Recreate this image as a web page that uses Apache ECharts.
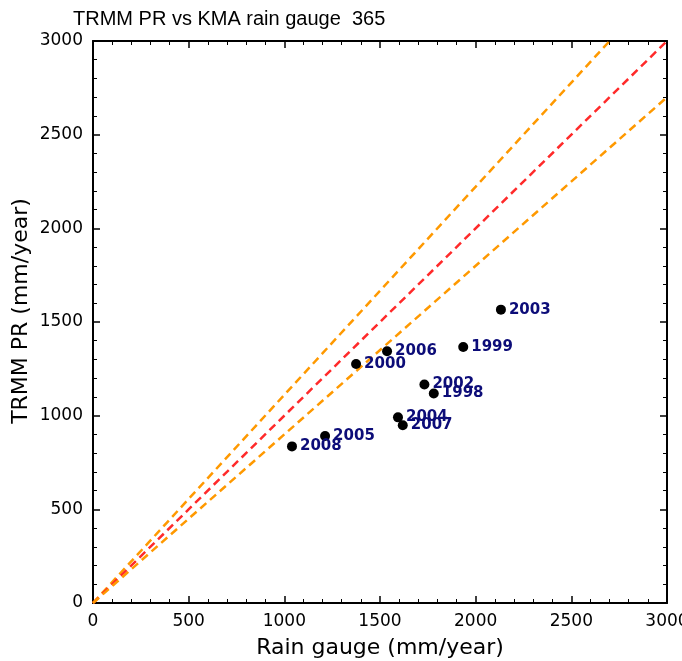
<!DOCTYPE html>
<html>
<head>
<meta charset="utf-8">
<script src="https://cdn.jsdelivr.net/npm/echarts@6/dist/echarts.min.js"></script>
<style>
  html, body { margin: 0; padding: 0; background: #fff; }
  #chart { width: 682px; height: 661px; }
</style>
</head>
<body>
<div id="chart"></div>
<script>
// station years and yearly totals (mm/year)
var years = ["2003", "1999", "2006", "2000", "2002", "1998", "2004", "2007", "2005", "2008"];
var gauge = [2132, 1935, 1537, 1375, 1732, 1781, 1594, 1619, 1213, 1040];
var trmm = [1566, 1367, 1344, 1276, 1166, 1118, 991, 949, 891, 836];

// reference lines: 1:1 and +/-10%
var oneToOne = [[0, 0], [3000, 3000]];
var upperRef = [[0, 0], [2700, 3000]];
var lowerRef = [[0, 0], [3000, 2700]];

var axisMin = 0;
var axisMax = 3000;
var axisStep = 500;

var pts = [];
for (var i = 0; i < years.length; i++) {
  pts.push({ value: [gauge[i], trmm[i]], name: years[i] });
}

function makeAxis(pos, showLabel) {
  return {
    type: "value",
    position: pos,
    min: axisMin,
    max: axisMax,
    interval: axisStep,
    splitLine: { show: false },
    axisLine: { show: true, onZero: false, lineStyle: { color: "#000", width: 2 } },
    axisTick: { show: true, inside: true, length: 7, lineStyle: { color: "#000", width: 1.5 } },
    minorTick: { show: true, splitNumber: 5, length: 4, lineStyle: { color: "#000", width: 1 } },
    axisLabel: {
      show: showLabel,
      color: "#000",
      fontFamily: "DejaVu Sans",
      fontSize: 17,
      margin: pos == "bottom" ? 10 : 10,
      formatter: function (v) { return String(v); }
    }
  };
}

var xBottom = makeAxis("bottom", true);
xBottom.name = "Rain gauge (mm/year)";
xBottom.nameLocation = "middle";
xBottom.nameGap = 34;
xBottom.nameTextStyle = { color: "#000", fontFamily: "DejaVu Sans", fontSize: 22 };

var option = {
  animation: false,
  backgroundColor: "#fff",
  title: {
    text: "TRMM PR vs KMA rain gauge  365",
    left: 68,
    top: 4,
    textStyle: { color: "#000", fontFamily: "Liberation Sans", fontWeight: "normal", fontSize: 20 }
  },
  graphic: [
    {
      type: "text",
      x: 21,
      y: 311,
      rotation: Math.PI / 2,
      style: {
        text: "TRMM PR (mm/year)",
        fill: "#000",
        font: "22px 'DejaVu Sans'",
        align: "center",
        verticalAlign: "middle"
      }
    }
  ],
  grid: { left: 93, right: 15, top: 41, bottom: 58, outerBoundsMode: "none" },
  xAxis: [xBottom, makeAxis("top", false)],
  yAxis: [makeAxis("left", true), makeAxis("right", false)],
  series: [
    {
      type: "line",
      data: upperRef,
      symbol: "none",
      lineStyle: { color: "#ff9900", width: 2.5, type: [8, 5] },
      z: 2
    },
    {
      type: "line",
      data: oneToOne,
      symbol: "none",
      lineStyle: { color: "#ff2a2a", width: 2.5, type: [8, 5] },
      z: 2
    },
    {
      type: "line",
      data: lowerRef,
      symbol: "none",
      lineStyle: { color: "#ff9900", width: 2.5, type: [8, 5] },
      z: 2
    },
    {
      type: "scatter",
      data: pts,
      symbol: "circle",
      symbolSize: 10,
      itemStyle: { color: "#000", opacity: 1 },
      label: {
        show: true,
        position: "right",
        distance: 3,
        formatter: "{b}",
        color: "#0c0c78",
        fontFamily: "DejaVu Sans",
        fontWeight: "bold",
        fontSize: 15
      },
      z: 5
    }
  ]
};

var myChart = echarts.init(document.getElementById("chart"));
myChart.setOption(option);
</script>
</body>
</html>
